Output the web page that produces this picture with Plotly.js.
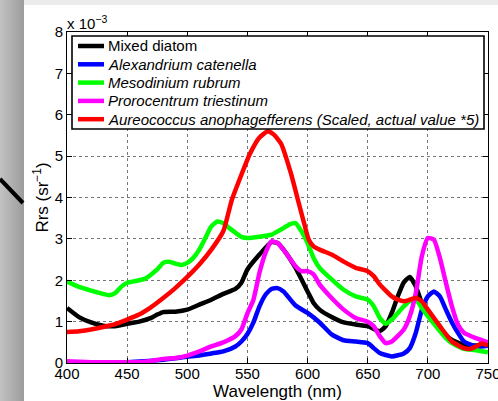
<!DOCTYPE html>
<html>
<head>
<meta charset="utf-8">
<script src="https://cdn.plot.ly/plotly-3.0.1.min.js"></script>
<style>
body{margin:0;padding:0;overflow:hidden;}
#bg{position:absolute;left:0;top:0;width:498px;height:401px;background:#fff;}
#topstrip{position:absolute;left:0;top:0;width:498px;height:5px;background:#ebebeb;}
#leftstrip{position:absolute;left:0;top:0;width:24px;height:401px;background:linear-gradient(to right,#c2c2c2,#9c9c9c);}
#chart{position:absolute;left:0;top:0;width:498px;height:401px;}
</style>
</head>
<body>
<div id="bg"><div id="topstrip"></div><div id="leftstrip"></div></div>
<div id="chart"></div>
<script>
// Wavelength grids (nm) and Rrs values (x 10^-3 sr^-1)
const diatomX = [400,410,420,430,440,450,460,470,475,480,490,500,510,520,530,540,545,550,560,570,575,580,590,600,605,610,620,630,640,650,660,665,670,675,680,685,690,695,700,710,720,730,740,750];
const diatomY = [1.33,1.11,0.98,0.90,0.89,0.95,1.00,1.09,1.17,1.23,1.24,1.29,1.41,1.53,1.67,1.79,1.94,2.26,2.62,2.92,2.90,2.74,2.30,1.73,1.45,1.29,1.11,0.98,0.93,0.89,0.77,0.89,1.21,1.61,1.95,2.08,1.85,1.45,1.17,0.81,0.56,0.44,0.42,0.44];

const alexX = [400,450,480,500,510,520,530,540,545,550,555,560,565,570,575,580,590,600,610,620,630,640,650,655,660,670,680,685,690,695,700,705,710,715,720,725,730,740,750];
const alexY = [0.02,0.02,0.08,0.15,0.18,0.23,0.28,0.40,0.52,0.70,0.98,1.37,1.65,1.79,1.81,1.73,1.39,1.21,0.98,0.69,0.55,0.52,0.48,0.36,0.24,0.16,0.23,0.36,0.73,1.29,1.61,1.73,1.61,1.29,0.98,0.73,0.52,0.40,0.42];

const mesoX = [400,410,420,430,435,440,445,450,460,465,470,475,480,485,490,495,500,505,510,515,520,525,530,535,540,545,550,560,570,575,580,585,590,595,600,605,610,620,630,640,650,655,660,665,670,675,680,685,690,695,700,705,710,715,720,730,740,750];
const mesoY = [1.97,1.84,1.75,1.67,1.64,1.69,1.84,1.94,2.00,2.04,2.14,2.26,2.42,2.45,2.40,2.37,2.42,2.54,2.74,3.02,3.30,3.42,3.38,3.26,3.15,3.05,3.02,3.05,3.10,3.18,3.26,3.35,3.38,3.18,2.90,2.54,2.30,2.02,1.77,1.61,1.53,1.37,1.09,0.95,1.05,1.21,1.37,1.49,1.53,1.33,1.13,0.95,0.77,0.60,0.48,0.34,0.31,0.26];

const proroX = [400,420,440,460,470,480,490,500,510,520,530,540,545,550,555,560,565,570,575,580,590,595,600,605,610,620,630,640,650,655,660,665,670,680,685,690,695,700,705,710,715,720,725,730,740,750];
const proroY = [0.04,0.02,0.02,0.02,0.05,0.10,0.12,0.18,0.28,0.40,0.50,0.65,0.81,1.20,1.53,2.18,2.66,2.94,2.90,2.74,2.34,2.22,2.22,2.14,1.90,1.57,1.29,1.09,1.00,0.89,0.65,0.48,0.52,0.81,1.13,1.69,2.58,3.02,2.98,2.54,1.94,1.37,0.93,0.73,0.60,0.50];

const aureoX = [400,410,420,430,440,450,460,470,480,490,500,510,520,530,537,545,552,560,567,572,578,586,592,597,601,605,610,620,630,640,650,655,660,670,675,680,690,695,700,710,720,730,735,740,745,750];
const aureoY = [0.75,0.77,0.81,0.87,0.94,1.05,1.17,1.35,1.57,1.81,2.08,2.38,2.74,3.19,3.94,4.55,5.05,5.45,5.60,5.52,5.30,4.60,3.94,3.39,2.98,2.82,2.74,2.62,2.45,2.30,2.22,2.10,1.90,1.61,1.53,1.49,1.57,1.49,1.29,0.89,0.52,0.36,0.34,0.40,0.47,0.42];

const seriesNames = ['Mixed diatom','<i>Alexandrium catenella</i>','<i>Mesodinium rubrum</i>','<i>Prorocentrum triestinum</i>','<i>Aureococcus anophagefferens (Scaled, actual value *5)</i>'];
const seriesColors = ['#000000','#0000ff','#00ff00','#ff00ff','#ff0000'];
const xTicks = [400,450,500,550,600,650,700,750];
const yTicks = [0,1,2,3,4,5,6,7,8];

const W = 498, H = 401;
const M = {l:67, r:10, t:32, b:38};
const PW = W - M.l - M.r, PH = H - M.t - M.b;
const px = v => (v - M.l) / PW;     // pixel x -> paper
const py = v => (H - M.b - v) / PH; // pixel y -> paper

const xs = [diatomX, alexX, mesoX, proroX, aureoX];
const ys = [diatomY, alexY, mesoY, proroY, aureoY];
const traces = xs.map((x,i)=>({
  x: x, y: ys[i], type:'scatter', mode:'lines', name: seriesNames[i], showlegend:false,
  line:{color: seriesColors[i], width:4.5, shape:'spline', smoothing:0.5}
}));

const fam = 'Liberation Sans, Arial, Helvetica, sans-serif';
const shapes = [
  {type:'line', xref:'paper', yref:'paper', x0:px(0), y0:py(179), x1:px(23), y1:py(203), line:{color:'#000', width:4}, layer:'above'},
  // legend box
  {type:'rect', xref:'paper', yref:'paper', x0:px(72), y0:py(36), x1:px(484), y1:py(129), fillcolor:'#fff', line:{color:'#000', width:1.6}, layer:'above'}
];
const annotations = [
  {xref:'paper', yref:'paper', x:px(65), y:py(34), xanchor:'left', yanchor:'bottom', text:'x 10<sup>−3</sup>', showarrow:false, font:{family:fam, size:15, color:'#000'}}
];
const rowY = [46, 64.3, 82.6, 100.9, 119.2];
seriesNames.forEach((n,i)=>{
  shapes.push({type:'line', xref:'paper', yref:'paper', x0:px(78), x1:px(104), y0:py(rowY[i]), y1:py(rowY[i]), line:{color:seriesColors[i], width:4.5}, layer:'above'});
  annotations.push({xref:'paper', yref:'paper', x:px(106), y:py(rowY[i]), xanchor:'left', yanchor:'middle', text:n, showarrow:false, font:{family:fam, size:15, color:'#000'}});
});

const layout = {
  width:W, height:H,
  margin:{l:M.l, r:M.r, t:M.t, b:M.b, pad:0},
  paper_bgcolor:'rgba(0,0,0,0)', plot_bgcolor:'#ffffff',
  font:{family:fam, size:15, color:'#000'},
  showlegend:false,
  xaxis:{range:[400,750], tickvals:xTicks, ticktext:xTicks.map(String), ticks:'inside', ticklen:5, tickcolor:'#000', showline:true, linecolor:'#000', linewidth:1, mirror:'ticks', showgrid:true, gridcolor:'#777', griddash:'dot', gridwidth:1, zeroline:false, title:{text:'Wavelength (nm)', font:{size:17}, standoff:0}, tickfont:{size:15}, ticklabeloverflow:'allow', ticklabelstandoff:-3},
  yaxis:{range:[0,8], tickvals:yTicks, ticktext:yTicks.map(String), ticks:'inside', ticklen:5, tickcolor:'#000', showline:true, linecolor:'#000', linewidth:1, mirror:'ticks', showgrid:true, gridcolor:'#777', griddash:'dot', gridwidth:1, zeroline:false, title:{text:'Rrs (sr<sup>−1</sup>)', font:{size:17}, standoff:1}, tickfont:{size:15}},
  annotations: annotations,
  shapes: shapes
};
Plotly.newPlot('chart', traces, layout, {displayModeBar:false, staticPlot:true});
</script>
</body>
</html>
